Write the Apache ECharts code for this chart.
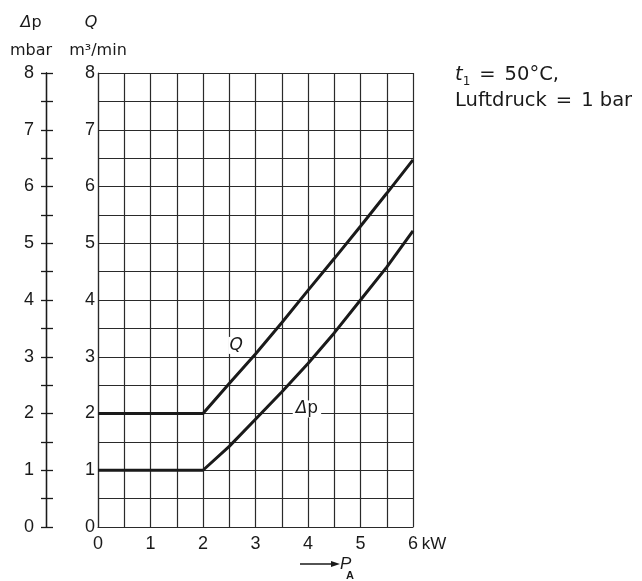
<!DOCTYPE html>
<html>
<head>
<meta charset="utf-8">
<script src="https://cdn.jsdelivr.net/npm/echarts@6/dist/echarts.min.js"></script>
<style>
html,body{margin:0;padding:0;background:#fff;}
#chart{width:642px;height:581px;}
</style>
</head>
<body>
<div id="chart"></div>
<script>
// ---- data ----
const xTicks = [0, 1, 2, 3, 4, 5, 6];
const yTicks = [0, 1, 2, 3, 4, 5, 6, 7, 8];
const powerKW = [0, 2, 2.5, 3, 3.5, 4, 4.5, 5, 5.5, 6];
const flowQ = [2, 2, 2.53, 3.05, 3.6, 4.17, 4.73, 5.3, 5.88, 6.47];
const pressureDp = [1, 1, 1.42, 1.9, 2.38, 2.88, 3.42, 4.0, 4.58, 5.22];
const qLabelAt = [2.63, 3.2];
const dpLabelAt = [3.98, 2.08];

const FONT = '"Liberation Sans", Arial, Helvetica, sans-serif';
const FONT2 = '"DejaVu Sans", Verdana, sans-serif';
const INK = '#1a1a1a';
const GRIDC = '#2a2a2a';

const qData = powerKW.map((x, i) => [x, flowQ[i]]);
const dpData = powerKW.map((x, i) => [x, pressureDp[i]]);

const chart = echarts.init(document.getElementById('chart'), null, {renderer: 'canvas'});

const option = {
  backgroundColor: '#fff',
  animation: false,
  textStyle: {fontFamily: FONT, color: INK},
  grid: {left: 98, right: 229, top: 73, bottom: 54, containLabel: false},
  xAxis: {
    type: 'value', min: 0, max: 6, interval: 1,
    axisLine: {show: true, onZero: false, lineStyle: {color: GRIDC, width: 1.2}},
    axisTick: {show: false},
    splitLine: {show: true, lineStyle: {color: GRIDC, width: 1.2}},
    minorTick: {show: false, splitNumber: 2},
    minorSplitLine: {show: true, lineStyle: {color: GRIDC, width: 1.2}},
    axisLabel: {
      margin: 8, fontSize: 18, color: INK, fontFamily: FONT,
      formatter: v => v === 6 ? '{p|}{n|6}{u|kW}' : String(v),
      rich: {
        p: {width: 29},
        n: {fontSize: 18, fontFamily: FONT, color: INK},
        u: {fontSize: 17, fontFamily: FONT, color: INK, width: 26, align: 'left', padding: [0, 0, 0, 3]}
      }
    }
  },
  yAxis: [
    {
      type: 'value', min: 0, max: 8, interval: 1, position: 'left',
      name: '{i|Q}\n{u|m³/min}',
      nameLocation: 'end', nameGap: 12,
      nameTextStyle: {
        align: 'center', padding: [0, 0, 0, 0],
        rich: {
          i: {fontSize: 16, fontStyle: 'italic', fontFamily: FONT2, color: INK, lineHeight: 36, padding: [0, 14, 0, 0]},
          u: {fontSize: 16, fontFamily: FONT2, color: INK, lineHeight: 20}
        }
      },
      axisLine: {show: true, onZero: false, lineStyle: {color: GRIDC, width: 1.2}},
      axisTick: {show: false},
      splitLine: {show: true, lineStyle: {color: GRIDC, width: 1.2}},
      minorTick: {show: false, splitNumber: 2},
      minorSplitLine: {show: true, lineStyle: {color: GRIDC, width: 1.2}},
      axisLabel: {margin: 3, fontSize: 18, color: INK, fontFamily: FONT,
        formatter: v => yTicks.includes(v) ? String(v) : ''}
    },
    {
      type: 'value', min: 0, max: 8, interval: 0.5, position: 'left', offset: 52,
      name: '{i|Δ}{n|p}\n{u|mbar}',
      nameLocation: 'end', nameGap: 12,
      nameTextStyle: {
        align: 'center', padding: [0, 30, 0, 0],
        rich: {
          i: {fontSize: 16, fontStyle: 'italic', fontFamily: FONT2, color: INK, lineHeight: 36},
          n: {fontSize: 16, fontFamily: FONT2, color: INK, lineHeight: 36},
          u: {fontSize: 16, fontFamily: FONT2, color: INK, lineHeight: 20}
        }
      },
      axisLine: {show: true, onZero: false, lineStyle: {color: INK, width: 1.3}},
      axisTick: {show: true, inside: false, length: 5, lineStyle: {color: INK, width: 1.3}},
      splitLine: {show: false},
      axisLabel: {margin: 12, fontSize: 18, color: INK, fontFamily: FONT,
        formatter: v => yTicks.includes(v) ? String(v) : ''}
    },
    {
      type: 'value', min: 0, max: 8, interval: 0.5, position: 'left', offset: 52,
      axisLine: {show: true, onZero: false, lineStyle: {color: INK, width: 1.3}},
      axisTick: {show: true, inside: true, length: 7, lineStyle: {color: INK, width: 1.3}},
      splitLine: {show: false},
      axisLabel: {show: false}
    }
  ],
  graphic: [
    {
      type: 'text', left: 455, top: 62,
      style: {
        text: '{i|t}{s|1}{e|=}50°C,\nLuftdruck{e|=}1 bar',
        fontSize: 19.5, fontFamily: FONT2, fill: INK, lineHeight: 26,
        rich: {
          i: {fontSize: 19.5, fontStyle: 'italic', fontFamily: FONT2, fill: INK},
          s: {fontSize: 12, fontFamily: FONT2, fill: INK, verticalAlign: 'bottom', padding: [6, 0, 0, 0]},
          e: {fontSize: 19.5, fontFamily: FONT2, fill: INK, padding: [0, 9, 0, 9]}
        }
      }
    },
    {
      type: 'group', x: 300, y: 550,
      children: [
        {type: 'line', shape: {x1: 0, y1: 14, x2: 33, y2: 14}, style: {stroke: INK, lineWidth: 1.3}},
        {type: 'polygon', shape: {points: [[31, 11], [40, 14], [31, 17]]}, style: {fill: INK}},
        {type: 'text', x: 40, y: 6, style: {text: 'P', fontSize: 17, fontStyle: 'italic', fontFamily: FONT, fill: INK}},
        {type: 'text', x: 46, y: 20, style: {text: 'A', fontSize: 11, fontWeight: 'bold', fontFamily: FONT, fill: INK}}
      ]
    }
  ],
  series: [
    {
      name: 'Q', type: 'line', data: qData, showSymbol: false, symbol: 'none',
      xAxisIndex: 0, yAxisIndex: 0,
      lineStyle: {color: INK, width: 3}, z: 5,
      markPoint: {
        symbol: 'circle', symbolSize: 0,
        data: [{coord: qLabelAt, value: 'Q'}],
        label: {show: true, position: 'inside', formatter: 'Q', fontSize: 17, fontStyle: 'italic',
          fontFamily: FONT2, color: INK, backgroundColor: '#fff', padding: [0, 1]}
      }
    },
    {
      name: 'Δp', type: 'line', data: dpData, showSymbol: false, symbol: 'none',
      xAxisIndex: 0, yAxisIndex: 0,
      lineStyle: {color: INK, width: 3}, z: 5,
      markPoint: {
        symbol: 'circle', symbolSize: 0,
        data: [{coord: dpLabelAt, value: 'Δp'}],
        label: {show: true, position: 'inside', formatter: '{i|Δ}{n|p}',
          backgroundColor: '#fff', padding: [0, 3],
          rich: {
            i: {fontSize: 17, fontStyle: 'italic', fontFamily: FONT2, color: INK},
            n: {fontSize: 17, fontFamily: FONT2, color: INK}
          }}
      }
    }
  ]
};
chart.setOption(option);
</script>
</body>
</html>
